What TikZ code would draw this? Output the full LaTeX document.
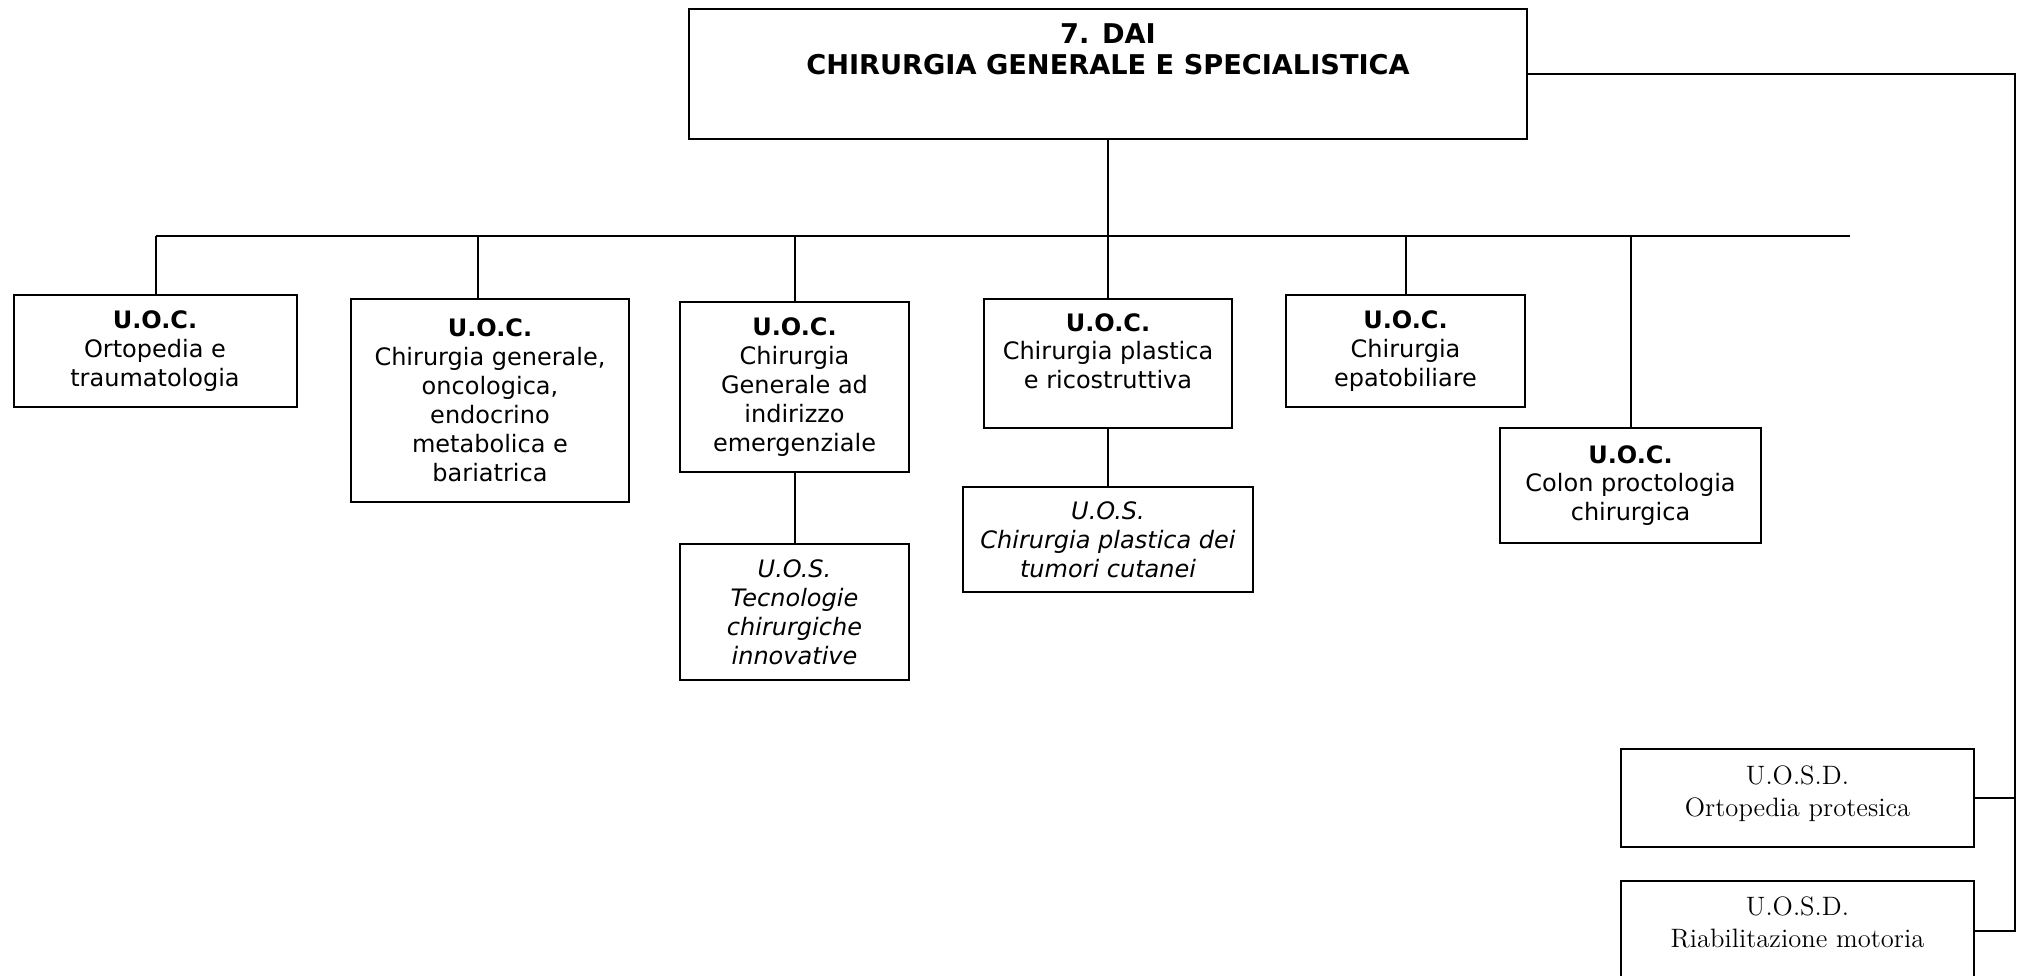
\documentclass[tikz,border=0pt]{standalone}
\usepackage{fontspec}
\usepackage{tikz}

\newfontfamily\verdana{DejaVu Sans}

\begin{document}
\begin{tikzpicture}[x=0.5pt,y=-0.5pt,line width=1pt,
  box/.style={draw,line width=1pt,align=center,inner sep=1pt},
  uoc/.style={box,font=\verdana\fontsize{12}{14.45}\selectfont},
  uos/.style={box,font=\verdana\itshape\fontsize{12}{14.45}\selectfont},
  uosd/.style={box,font=\fontsize{13.3}{16}\selectfont}]
\useasboundingbox (0,0) rectangle (2022,975);
\clip (0,0) rectangle (2022,975);
%
\node[box,font=\verdana\bfseries\fontsize{13.6}{15.5}\selectfont,minimum width=419pt,minimum height=65pt,text depth=25pt] (dai) at (1108,74) {7. DAI\\CHIRURGIA GENERALE E SPECIALISTICA};
%
\node[uoc,minimum width=141.5pt,minimum height=56pt] (ortop) at (155,351) {\textbf{U.O.C.}\\Ortopedia e\\traumatologia};
\node[uoc,minimum width=139pt,minimum height=101.5pt] (chirgen) at (490,400.5) {\textbf{U.O.C.}\\Chirurgia generale,\\oncologica,\\endocrino\\metabolica e\\bariatrica};
\node[uoc,minimum width=114.5pt,minimum height=85pt] (emerg) at (794.5,387) {\textbf{U.O.C.}\\Chirurgia\\Generale ad\\indirizzo\\emergenziale};
\node[uos,minimum width=114.5pt,minimum height=68pt] (tecno) at (794.5,612) {U.O.S.\\Tecnologie\\chirurgiche\\innovative};
\node[uoc,minimum width=124pt,minimum height=64.5pt,text depth=12.5pt] (plast) at (1108,363.5) {\textbf{U.O.C.}\\Chirurgia plastica\\e ricostruttiva};
\node[uos,minimum width=145pt,minimum height=52.5pt] (tumori) at (1108,539.5) {U.O.S.\\Chirurgia plastica dei\\tumori cutanei};
\node[uoc,minimum width=119.5pt,minimum height=56pt] (epato) at (1405.5,351) {\textbf{U.O.C.}\\Chirurgia\\epatobiliare};
\node[uoc,minimum width=130.5pt,minimum height=57.5pt] (colon) at (1630.5,485.5) {\textbf{U.O.C.}\\Colon proctologia\\chirurgica};
%
\node[uosd,minimum width=176.5pt,minimum height=49pt,text depth=6.5pt] (protes) at (1797.5,798) {U.O.S.D.\\Ortopedia protesica};
\node[uosd,minimum width=176.5pt,minimum height=50pt,text depth=9pt] (riabil) at (1797.5,931) {U.O.S.D.\\Riabilitazione motoria};
%
\coordinate (busL) at (156,236);
\coordinate (busR) at (1850,236);
\coordinate (j2) at (478,236);
\coordinate (rline) at (2015,74);
%
\draw (busL) -- (busR);
\draw (dai.south) -- (plast.north);
\draw (busL) -- (busL |- ortop.north);
\draw (j2) -- (j2 |- chirgen.north);
\draw (emerg.north |- busL) -- (emerg.north);
\draw (epato.north |- busL) -- (epato.north);
\draw (colon.north |- busL) -- (colon.north);
\draw (emerg.south) -- (tecno.north);
\draw (plast.south) -- (tumori.north);
%
\draw (dai.east) -- (rline) -- (rline |- riabil.east) -- (riabil.east);
\draw (protes.east) -- (protes.east -| rline);
\end{tikzpicture}
\end{document}
